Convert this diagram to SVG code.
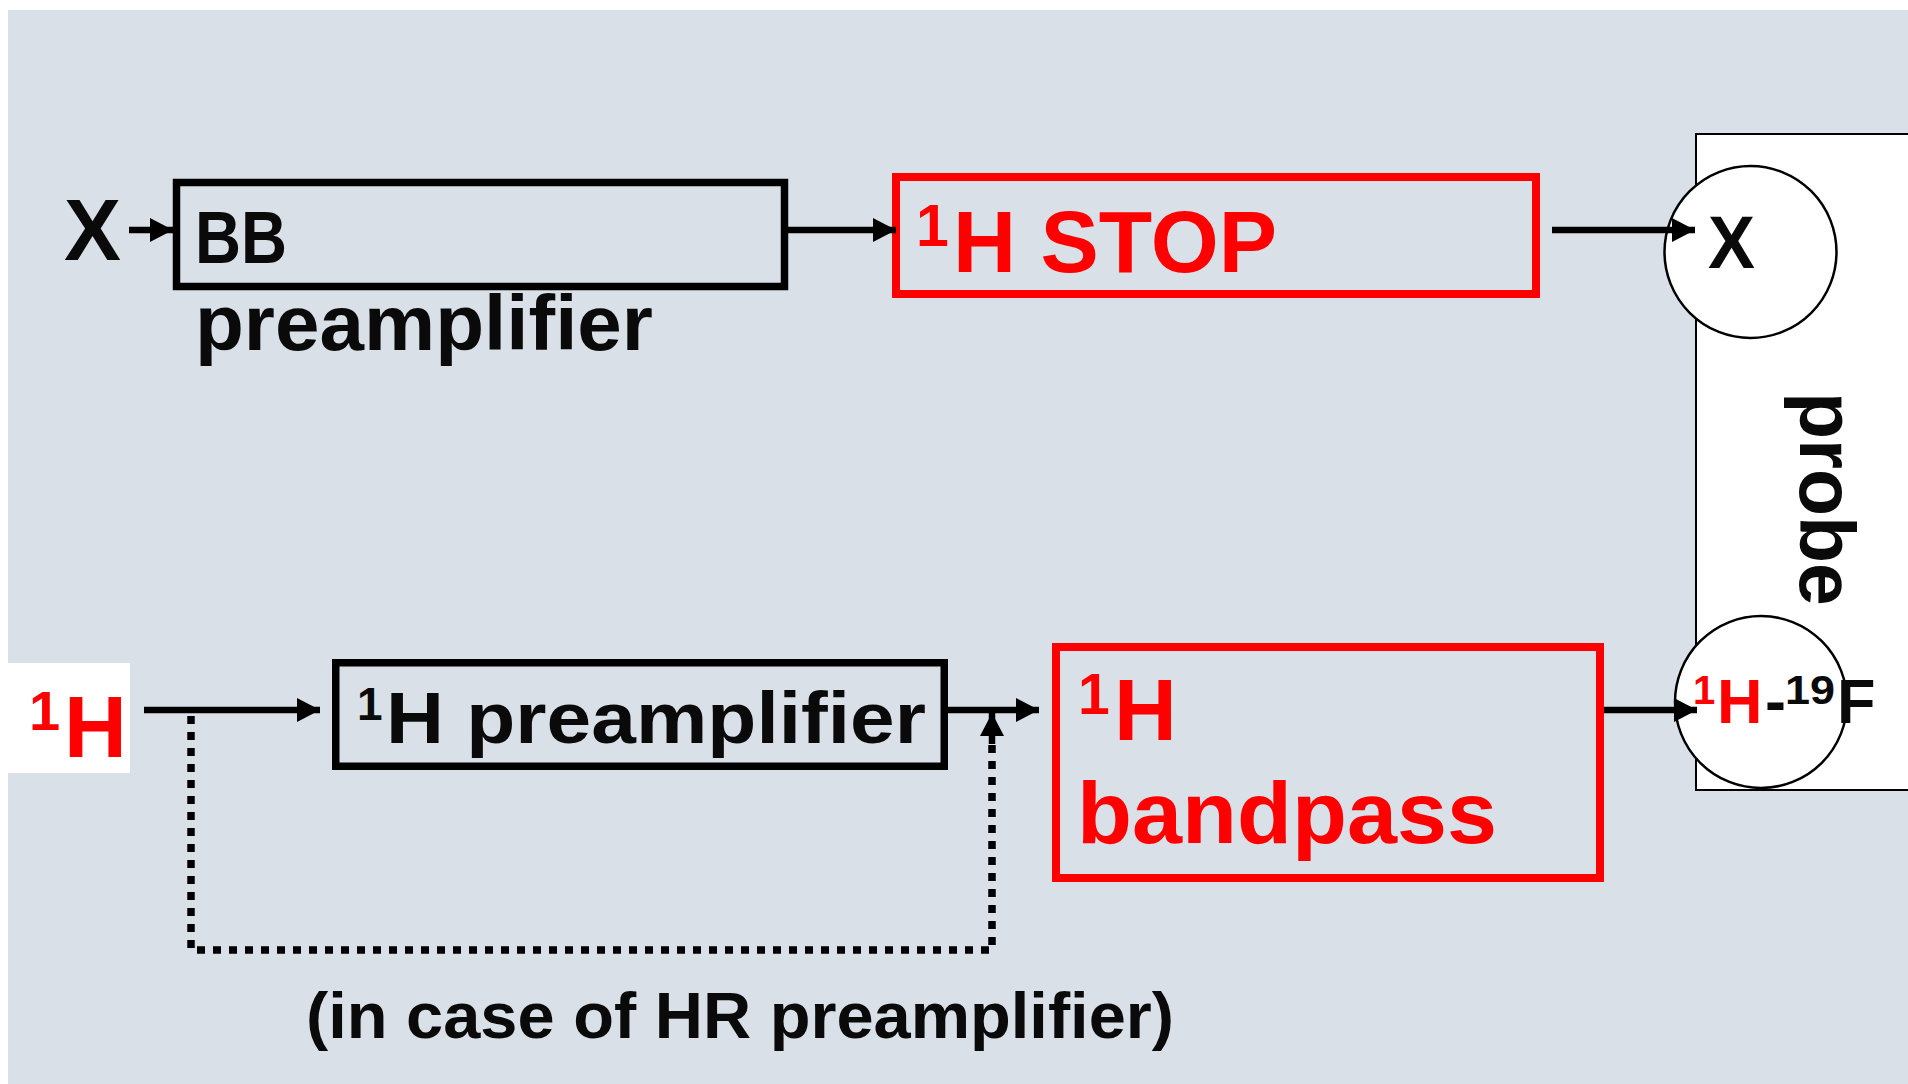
<svg xmlns="http://www.w3.org/2000/svg" width="1908" height="1084" viewBox="0 0 1908 1084">
  <defs>
    <marker id="ah" markerUnits="userSpaceOnUse" markerWidth="23" markerHeight="24" refX="23" refY="12" orient="auto">
      <path d="M0,0 L23,12 L0,24 Z" fill="#000"/>
    </marker>
    <style>
      .t { font-family: "Liberation Sans", Arial, sans-serif; font-weight: bold; }
      .red { fill: #ff0000; }
      .blk { fill: #0a0a0a; }
      .box { fill: none; stroke: #000; stroke-width: 7.5; }
      .rbox { fill: none; stroke: #ff0000; stroke-width: 8; }
      .conn { stroke: #000; stroke-width: 6.5; fill: none; }
      .dot { stroke: #000; stroke-width: 7.5; fill: none; stroke-dasharray: 8 8; }
      .circ { fill: #fff; stroke: #000; stroke-width: 2.5; }
    </style>
  </defs>
  <rect x="0" y="0" width="1908" height="1084" fill="#ffffff"/>
  <rect x="8" y="10" width="1900" height="1074" fill="#d9e0e7"/>

  <g id="probe">
    <rect x="1696" y="134" width="240" height="656" fill="#fff" stroke="#000" stroke-width="2"/>
    <text class="t blk" font-size="77" transform="translate(1800,392) rotate(90)">probe</text>
  </g>

  <g id="h-input">
    <rect x="0" y="663" width="130" height="110" fill="#fff"/>
    <text class="t red" x="29" y="730" font-size="56">1</text>
    <text class="t red" x="64" y="757" font-size="87">H</text>
  </g>

  <g id="x-input">
    <text class="t blk" x="64" y="260" font-size="87" textLength="57" lengthAdjust="spacingAndGlyphs">X</text>
  </g>

  <g id="bb-preamp">
    <rect class="box" x="176.5" y="182.5" width="608" height="104"/>
    <text class="t blk" x="195" y="263" font-size="74" textLength="92" lengthAdjust="spacingAndGlyphs">BB</text>
    <text class="t blk" x="195" y="350" font-size="77" textLength="458" lengthAdjust="spacingAndGlyphs">preamplifier</text>
  </g>

  <g id="h-stop">
    <rect class="rbox" x="896" y="177" width="640" height="117"/>
    <text class="t red" x="916" y="246" font-size="59">1</text>
    <text class="t red" x="953" y="272" font-size="87" textLength="324" lengthAdjust="spacingAndGlyphs">H STOP</text>
  </g>

  <g id="x-coil">
    <circle class="circ" cx="1750.5" cy="252" r="86"/>
    <text class="t blk" x="1708" y="268" font-size="74" textLength="47" lengthAdjust="spacingAndGlyphs">X</text>
  </g>

  <g id="h-preamp">
    <rect class="box" x="335.75" y="662.75" width="608.5" height="103.5"/>
    <text class="t blk" x="357" y="720" font-size="46">1</text>
    <text class="t blk" x="386" y="743" font-size="73" textLength="540" lengthAdjust="spacingAndGlyphs">H preamplifier</text>
  </g>

  <g id="h-bandpass">
    <rect class="rbox" x="1056" y="647" width="544" height="231"/>
    <text class="t red" x="1078" y="714" font-size="57">1</text>
    <text class="t red" x="1114" y="740" font-size="87">H</text>
    <text class="t red" x="1077" y="843" font-size="88" textLength="420" lengthAdjust="spacingAndGlyphs">bandpass</text>
  </g>

  <g id="hf-coil">
    <circle class="circ" cx="1761" cy="702" r="86"/>
    <text class="t red" x="1693" y="704" font-size="40">1</text>
    <text class="t red" x="1717" y="723" font-size="63">H</text>
    <text class="t blk" x="1765" y="723" font-size="63">-</text>
    <text class="t blk" x="1785" y="704" font-size="40" textLength="50" lengthAdjust="spacingAndGlyphs">19</text>
    <text class="t blk" x="1837" y="723" font-size="63">F</text>
  </g>

  <g id="connectors">
    <line class="conn" x1="129" y1="230" x2="173" y2="230" marker-end="url(#ah)"/>
    <line class="conn" x1="788" y1="230" x2="896" y2="230" marker-end="url(#ah)"/>
    <line class="conn" x1="1552" y1="230" x2="1695" y2="230" marker-end="url(#ah)"/>
    <line class="conn" x1="144" y1="710" x2="320" y2="710" marker-end="url(#ah)"/>
    <line class="conn" x1="948" y1="710" x2="1039" y2="710" marker-end="url(#ah)"/>
    <line class="conn" x1="1604" y1="710" x2="1697" y2="710" marker-end="url(#ah)"/>
    <path class="dot" d="M191,716 L191,950 L992,950 L992,742"/>
    <line class="conn" x1="992" y1="744" x2="992" y2="713" stroke-width="7" marker-end="url(#ah)"/>
  </g>

  <g id="note">
    <text class="t blk" x="306" y="1038" font-size="64" textLength="868" lengthAdjust="spacingAndGlyphs">(in case of HR preamplifier)</text>
  </g>
</svg>
